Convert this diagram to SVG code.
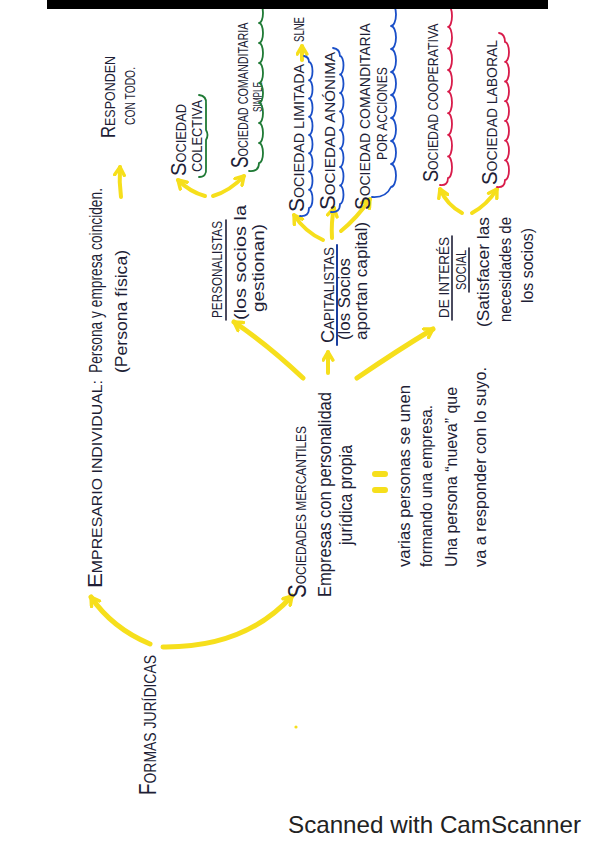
<svg xmlns="http://www.w3.org/2000/svg" width="599" height="848" viewBox="0 0 599 848">
<defs>
<style>
.ink{font-family:"Liberation Sans",Arial,sans-serif;fill:#1e1e36;}
.arr{fill:none;stroke:#f6df1c;stroke-linecap:round;marker-end:url(#ah);}
.big{stroke-width:5;}
.sm{stroke-width:4;}
.ul{fill:none;stroke:#1e1e36;stroke-width:1.6;stroke-linecap:round;}
.gr{fill:none;stroke:#1f7a35;stroke-width:1.8;stroke-linecap:round;stroke-linejoin:round;}
.bl{fill:none;stroke:#1a4fc8;stroke-width:1.8;stroke-linecap:round;stroke-linejoin:round;}
.rd{fill:none;stroke:#d81b4a;stroke-width:1.8;stroke-linecap:round;stroke-linejoin:round;}
</style>
<marker id="ah" viewBox="0 0 12 12" refX="9" refY="6" markerWidth="13" markerHeight="13" markerUnits="userSpaceOnUse" orient="auto">
<path d="M1.5,1.5 L9,6 L1.5,10.5" fill="none" stroke="#f6df1c" stroke-width="3.2" stroke-linecap="round" stroke-linejoin="round"/>
</marker>
</defs>
<rect width="599" height="848" fill="#ffffff"/>

<g id="connectors">
<path class="arr big" d="M150,644 Q112,628 91,597"/>
<path class="arr big" d="M163,647 Q245,648 292,596"/>
<path class="arr sm" d="M121,197 Q119,182 120,167"/>
<path class="arr big" d="M303,378 Q268,345 234,322"/>
<path class="arr sm" d="M328,373 L328,352"/>
<path class="arr big" d="M357,378 Q398,350 433,329"/>
<path class="arr sm" d="M205,196 Q190,192 178,180"/>
<path class="arr sm" d="M213,196 Q230,191 244,176"/>
<path class="arr sm" d="M323,240 Q305,232 294,215"/>
<path class="arr sm" d="M332,238 Q331,222 334,208"/>
<path class="arr sm" d="M341,231 Q357,218 370,199"/>
<path class="arr sm" d="M302,60 L302,46"/>
<path class="arr sm" d="M462,213 Q447,205 440,189"/>
<path class="arr sm" d="M472,213 Q487,205 497,189"/>
</g>

<g id="formas-juridicas">
<text class="ink" transform="translate(156,795) rotate(-90)" font-size="17" textLength="140" lengthAdjust="spacingAndGlyphs"><tspan font-size="23">F</tspan>ORMAS JURÍDICAS</text>
</g>

<g id="empresario-individual">
<text class="ink" transform="translate(102,588) rotate(-90)" font-size="15" textLength="208" lengthAdjust="spacingAndGlyphs"><tspan font-size="21">E</tspan>MPRESARIO INDIVIDUAL:</text>
<text class="ink" transform="translate(102,373) rotate(-90)" font-size="18" textLength="185" lengthAdjust="spacingAndGlyphs">Persona y empresa coinciden.</text>
<text class="ink" transform="translate(127,373) rotate(-90)" font-size="17" textLength="123" lengthAdjust="spacingAndGlyphs">(Persona física)</text>
</g>

<g id="responden">
<text class="ink" transform="translate(115,138) rotate(-90)" font-size="15" textLength="82" lengthAdjust="spacingAndGlyphs"><tspan font-size="20">R</tspan>ESPONDEN</text>
<text class="ink" transform="translate(135,125) rotate(-90)" font-size="15" textLength="58" lengthAdjust="spacingAndGlyphs">CON TODO.</text>
</g>

<g id="sociedades-mercantiles">
<text class="ink" transform="translate(306,598) rotate(-90)" font-size="15" textLength="172" lengthAdjust="spacingAndGlyphs"><tspan font-size="26">S</tspan>OCIEDADES MERCANTILES</text>
<text class="ink" transform="translate(331,597) rotate(-90)" font-size="18" textLength="205" lengthAdjust="spacingAndGlyphs">Empresas con personalidad</text>
<text class="ink" transform="translate(352,545) rotate(-90)" font-size="18" textLength="100" lengthAdjust="spacingAndGlyphs">jurídica propia</text>
<path d="M375,474 L385,474 M375,490 L385,490" fill="none" stroke="#f6df1c" stroke-width="6" stroke-linecap="round"/>
<text class="ink" transform="translate(410,567) rotate(-90)" font-size="17" textLength="182" lengthAdjust="spacingAndGlyphs">varias personas se unen</text>
<text class="ink" transform="translate(432,567) rotate(-90)" font-size="17" textLength="162" lengthAdjust="spacingAndGlyphs">formando una empresa.</text>
<text class="ink" transform="translate(457,567) rotate(-90)" font-size="17" textLength="180" lengthAdjust="spacingAndGlyphs">Una persona “nueva” que</text>
<text class="ink" transform="translate(486,567) rotate(-90)" font-size="17" textLength="200" lengthAdjust="spacingAndGlyphs">va a responder con lo suyo.</text>
</g>

<g id="personalistas">
<text class="ink" transform="translate(222,318) rotate(-90)" font-size="15" textLength="97" lengthAdjust="spacingAndGlyphs">PERSONALISTAS</text>
<path class="ul" d="M226,320 L226,220"/>
<text class="ink" transform="translate(246,320) rotate(-90)" font-size="17" textLength="115" lengthAdjust="spacingAndGlyphs">(los socios la</text>
<text class="ink" transform="translate(264,312) rotate(-90)" font-size="17" textLength="88" lengthAdjust="spacingAndGlyphs">gestionan)</text>
</g>

<g id="sociedad-colectiva">
<text class="ink" transform="translate(186,176) rotate(-90)" font-size="14" textLength="72" lengthAdjust="spacingAndGlyphs"><tspan font-size="22">S</tspan>OCIEDAD</text>
<text class="ink" transform="translate(202,172) rotate(-90)" font-size="14" textLength="72" lengthAdjust="spacingAndGlyphs">COLECTIVA</text>
<path class="gr" d="M199,177 Q207,177 206,168 L206,140 Q209,135 206,130 L206,104 Q207,96 199,95"/>
</g>

<g id="sociedad-comanditaria-simple">
<text class="ink" transform="translate(248,168) rotate(-90) scale(0.72,1)" font-size="15"><tspan font-size="24">S</tspan>OCIEDAD COMANDITARIA</text>
<text class="ink" transform="translate(262,112) rotate(-90)" font-size="13" textLength="30" lengthAdjust="spacingAndGlyphs">SIMPLE</text>
<path class="gr" d="M249,171 Q259,172 259,163 a4,10 0 0 0 0,-20 a4,10 0 0 0 0,-20 a4,10 0 0 0 0,-20 a4,10 0 0 0 0,-20 a4,10 0 0 0 0,-20 a4,10 0 0 0 0,-20 a4,10 0 0 0 0,-20 a4,10 0 0 0 0,-20"/>
</g>

<g id="capitalistas">
<text class="ink" transform="translate(334,343) rotate(-90)" font-size="14" textLength="96" lengthAdjust="spacingAndGlyphs"><tspan font-size="19">C</tspan>APITALISTAS</text>
<path d="M337,345 L337,245" fill="none" stroke="#1a3fa0" stroke-width="2" stroke-linecap="round"/>
<text class="ink" transform="translate(350,340) rotate(-90)" font-size="16" textLength="82" lengthAdjust="spacingAndGlyphs">(los Socios</text>
<text class="ink" transform="translate(367,340) rotate(-90)" font-size="16" textLength="118" lengthAdjust="spacingAndGlyphs">aportan capital)</text>
</g>

<g id="sociedad-limitada">
<text class="ink" transform="translate(304,212) rotate(-90)" font-size="15" textLength="148" lengthAdjust="spacingAndGlyphs"><tspan font-size="22">S</tspan>OCIEDAD LIMITADA</text>
<path class="bl" d="M300,216 Q309,217 309,208 a3.5,9.1 0 0 0 0,-18.25 a3.5,9.1 0 0 0 0,-18.25 a3.5,9.1 0 0 0 0,-18.25 a3.5,9.1 0 0 0 0,-18.25 a3.5,9.1 0 0 0 0,-18.25 a3.5,9.1 0 0 0 0,-18.25 a3.5,9.1 0 0 0 0,-18.25 a3.5,9.1 0 0 0 0,-18.25 Q309,57 304,56"/>
</g>

<g id="slne">
<text class="ink" transform="translate(304,42) rotate(-90)" font-size="15" textLength="25" lengthAdjust="spacingAndGlyphs">SLNE</text>
</g>

<g id="sociedad-anonima">
<text class="ink" transform="translate(335,210) rotate(-90)" font-size="15" textLength="158" lengthAdjust="spacingAndGlyphs"><tspan font-size="22">S</tspan>OCIEDAD ANÓNIMA</text>
<path class="bl" d="M331,212 Q340,213 340,204 a3.5,9.25 0 0 0 0,-18.5 a3.5,9.25 0 0 0 0,-18.5 a3.5,9.25 0 0 0 0,-18.5 a3.5,9.25 0 0 0 0,-18.5 a3.5,9.25 0 0 0 0,-18.5 a3.5,9.25 0 0 0 0,-18.5 a3.5,9.25 0 0 0 0,-18.5 a3.5,9.25 0 0 0 0,-18.5 Q340,49 333,48"/>
</g>

<g id="sociedad-comanditaria-acciones">
<text class="ink" transform="translate(370,210) rotate(-90) scale(0.93,1)" font-size="15"><tspan font-size="22">S</tspan>OCIEDAD COMANDITARIA</text>
<text class="ink" transform="translate(387,160) rotate(-90)" font-size="14" textLength="93" lengthAdjust="spacingAndGlyphs">POR ACCIONES</text>
<path class="bl" d="M372,197 Q386,198 391,187 a5,11.5 0 0 0 0,-23 a5,11.5 0 0 0 0,-23 a5,11.5 0 0 0 0,-23 a5,11.5 0 0 0 0,-23 a5,11.5 0 0 0 0,-23 a5,11.5 0 0 0 0,-23 a5,11.5 0 0 0 0,-23 a5,11.5 0 0 0 0,-23"/>
</g>

<g id="de-interes-social">
<text class="ink" transform="translate(449,318) rotate(-90)" font-size="15" textLength="81" lengthAdjust="spacingAndGlyphs">DE INTERÉS</text>
<path class="ul" d="M452,320 L452,236"/>
<text class="ink" transform="translate(466,290) rotate(-90)" font-size="14" textLength="40" lengthAdjust="spacingAndGlyphs">SOCIAL</text>
<path class="ul" d="M469,292 L469,248"/>
<text class="ink" transform="translate(489,327) rotate(-90)" font-size="17" textLength="110" lengthAdjust="spacingAndGlyphs">(Satisfacer las</text>
<text class="ink" transform="translate(511,322) rotate(-90)" font-size="17" textLength="105" lengthAdjust="spacingAndGlyphs">necesidades de</text>
<text class="ink" transform="translate(533,303) rotate(-90)" font-size="17" textLength="75" lengthAdjust="spacingAndGlyphs">los socios)</text>
</g>

<g id="sociedad-cooperativa">
<text class="ink" transform="translate(438,182) rotate(-90) scale(0.82,1)" font-size="15"><tspan font-size="22">S</tspan>OCIEDAD COOPERATIVA</text>
<path class="rd" d="M440,185 Q448,186 448,178 a4,10.8 0 0 0 0,-21.6 a4,10.8 0 0 0 0,-21.6 a4,10.8 0 0 0 0,-21.6 a4,10.8 0 0 0 0,-21.6 a4,10.8 0 0 0 0,-21.6 a4,10.8 0 0 0 0,-21.6 a4,10.8 0 0 0 0,-21.6 a4,10.8 0 0 0 0,-21.6"/>
</g>

<g id="sociedad-laboral">
<text class="ink" transform="translate(497,185) rotate(-90)" font-size="15" textLength="145" lengthAdjust="spacingAndGlyphs"><tspan font-size="22">S</tspan>OCIEDAD LABORAL</text>
<path class="rd" d="M497,187 Q505,188 505,180 a4,9.85 0 0 0 0,-19.7 a4,9.85 0 0 0 0,-19.7 a4,9.85 0 0 0 0,-19.7 a4,9.85 0 0 0 0,-19.7 a4,9.85 0 0 0 0,-19.7 a4,9.85 0 0 0 0,-19.7 a4,9.85 0 0 0 0,-19.7 Q505,34 499,33"/>
</g>

<circle cx="296" cy="727" r="1.6" fill="#f6df1c"/>

<rect x="47" y="0" width="501" height="9" fill="#000000"/>

<text x="288" y="833" font-family="'Liberation Sans',Arial,sans-serif" font-size="24" fill="#222222" textLength="293" lengthAdjust="spacingAndGlyphs">Scanned with CamScanner</text>
</svg>
